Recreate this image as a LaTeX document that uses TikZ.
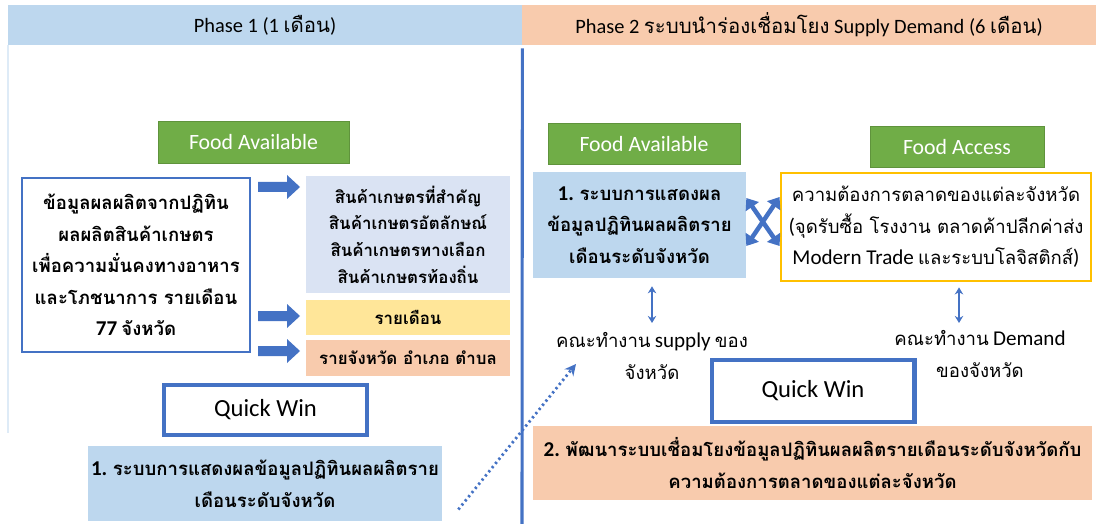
\documentclass[tikz,border=0pt]{standalone}
\usepackage{fontspec}
\setmainfont{Carlito}
\newfontfamily\thaifont[Script=Thai]{Loma}
\newcommand{\tha}[1]{{\thaifont #1}}
\newcommand{\lat}[1]{{\fontsize{15}{22.5}\selectfont #1}}
\usetikzlibrary{arrows.meta,positioning,calc}
\definecolor{hdrblue}{HTML}{BDD7EE}
\definecolor{hdrorange}{HTML}{F8CBAD}
\definecolor{tagg}{HTML}{70AD47}
\definecolor{qblue}{HTML}{4472C4}
\definecolor{lavender}{HTML}{DAE3F3}
\definecolor{softyellow}{HTML}{FFE699}
\definecolor{gold}{HTML}{FFC000}
\definecolor{faint}{HTML}{DEEBF7}
\tikzset{
  body/.style={font=\fontsize{13.2}{22.5}\selectfont},
  hdr/.style={rectangle, minimum height=1cm, font=\fontsize{14.5}{17}\selectfont},
  tag/.style={rectangle, fill=tagg, draw=tagg!85!black, line width=0.5pt, text=white,
    minimum height=1.04cm, font=\fontsize{15.5}{18}\selectfont},
  qwin/.style={rectangle, draw=qblue, line width=3.5pt, fill=white,
    font=\fontsize{17.5}{20}\selectfont},
  updown/.style={qblue, line width=1.2pt, {Stealth[length=5pt,width=6pt]}-{Stealth[length=5pt,width=6pt]}},
  cross/.style={qblue, line width=3.2pt, {Triangle[length=7.5pt,width=11pt]}-{Triangle[length=7.5pt,width=11pt]}}
}
\begin{document}
\begin{tikzpicture}[x=0.025cm, y=-0.025cm, every node/.style={inner sep=0pt, align=center}]
  \useasboundingbox (0,0) rectangle (1096,524);

  % headers
  \node[hdr, fill=hdrblue, minimum width=12.85cm] (hdrL) at (265,25) {Phase 1 (1 \tha{เดือน})};
  \node[hdr, fill=hdrorange, minimum width=14.35cm] (hdrR) at (809,25) {Phase 2 \tha{ระบบนำร่องเชื่อมโยง} Supply Demand (6 \tha{เดือน})};
  \draw[faint, line width=0.8pt] (8,45) -- (8,433);
  \draw[qblue, line width=2.2pt] ([yshift=-0.075cm]hdrL.south east) -- (522,524);

  % phase 1
  \node[tag, minimum width=4.775cm] (favL) at (253.5,142.5) {Food Available};
  \node[body, draw=qblue, line width=1.5pt, minimum width=5.7cm, minimum height=4.35cm] (src) at (136,265)
    {\bfseries\tha{ข้อมูลผลผลิตจากปฏิทิน}\\ \bfseries\tha{ผลผลิตสินค้าเกษตร}\\ \bfseries\tha{เพื่อความมั่นคงทางอาหาร}\\
     \bfseries\tha{และโภชนาการ รายเดือน}\\ \bfseries\lat{77} \tha{จังหวัด}};
  \node[fill=lavender, minimum width=5.1cm, minimum height=2.925cm, font=\fontsize{12}{19}\selectfont\bfseries] (goods) at (408,234.5)
    {\tha{สินค้าเกษตรที่สำคัญ}\\ \tha{สินค้าเกษตรอัตลักษณ์}\\ \tha{สินค้าเกษตรทางเลือก}\\ \tha{สินค้าเกษตรท้องถิ่น}};
  \node[fill=softyellow, minimum width=5.1cm, minimum height=0.875cm, font=\fontsize{12}{19}\selectfont\bfseries] (monthly) at (408,317.5) {\tha{รายเดือน}};
  \node[fill=hdrorange, minimum width=5.1cm, minimum height=0.9cm, font=\fontsize{12}{19}\selectfont\bfseries] (area) at (408,358) {\tha{รายจังหวัด อำเภอ ตำบล}};
  \foreach \y in {187,316,351}
    \fill[qblue] (258,\y-5) -- (287,\y-5) -- (287,\y-12) -- (300,\y) -- (287,\y+12) -- (287,\y+5) -- (258,\y+5) -- cycle;
  \node[qwin, minimum width=5.075cm, minimum height=1.25cm] (qwL) at (265.5,410) {Quick Win};
  \node[body, fill=hdrblue, minimum width=8.85cm, minimum height=1.875cm] (showL) at (265,483.5)
    {\bfseries\lat{1.} \tha{ระบบการแสดงผลข้อมูลปฏิทินผลผลิตราย}\\ \bfseries\tha{เดือนระดับจังหวัด}};

  % phase 2
  \node[tag, minimum width=4.8cm] (favR) at (644,144) {Food Available};
  \node[tag, minimum width=4.35cm] (faccess) at (957,147) {Food Access};
  \node[body, fill=hdrblue, minimum width=5.325cm, minimum height=2.65cm] (showR) at (639.5,225)
    {\bfseries\lat{1.} \tha{ระบบการแสดงผล}\\ \bfseries\tha{ข้อมูลปฏิทินผลผลิตราย}\\ \bfseries\tha{เดือนระดับจังหวัด}};
  \node[body, draw=gold, line width=2pt, minimum width=7.75cm, minimum height=2.7cm] (demand) at (936,227)
    {\tha{ความต้องการตลาดของแต่ละจังหวัด}\\ \lat{(}\tha{จุดรับซื้อ โรงงาน ตลาดค้าปลีกค่าส่ง}\\ \lat{Modern Trade} \tha{และระบบโลจิสติกส์}\lat{)}};
  \node[body] (wgsupply) at (652,356) {\tha{คณะทำงาน} \lat{supply} \tha{ของ}\\ \tha{จังหวัด}};
  \node[body] (wgdemand) at (980,354) {\tha{คณะทำงาน} \lat{Demand}\\ \tha{ของจังหวัด}};
  \node[qwin, minimum width=5.05cm, minimum height=1.55cm] (qwR) at (813,391) {Quick Win};
  \node[body, fill=hdrorange, minimum width=13.975cm, minimum height=1.85cm] (link) at (812.5,463)
    {\bfseries\lat{2.} \tha{พัฒนาระบบเชื่อมโยงข้อมูลปฏิทินผลผลิตรายเดือนระดับจังหวัดกับ}\\ \bfseries\tha{ความต้องการตลาดของแต่ละจังหวัด}};

  % connectors
  \draw[cross] ([yshift=0.675cm]showR.east) -- ([yshift=-0.475cm]demand.west);
  \draw[cross] ([yshift=-0.525cm]showR.east) -- ([yshift=0.75cm]demand.west);
  \draw[updown] (showR.south -| wgsupply.north) ++(0,8) coordinate (s1) (s1) -- (652,323);
  \draw[updown] ([xshift=0.575cm,yshift=-0.125cm]demand.south) -- (959,323);
  \draw[qblue, line width=2pt, dash pattern=on 1.6pt off 2.2pt, -{Stealth[length=8pt,width=8pt]}] ([shift={(0.4cm,-0.65cm)}]showL.east) -- (576,364);
\end{tikzpicture}
\end{document}
